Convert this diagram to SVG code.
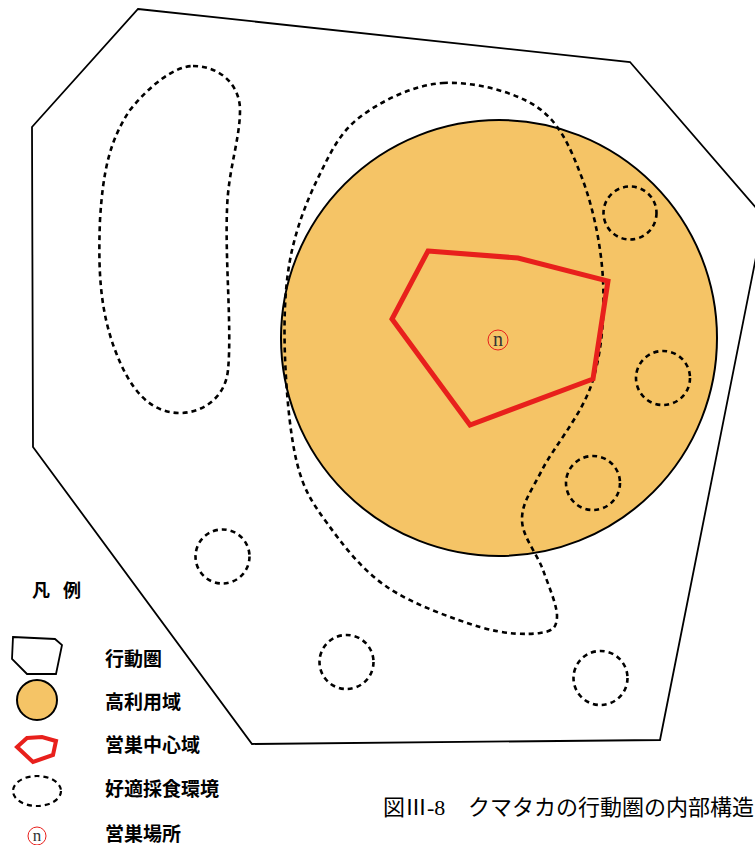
<svg xmlns="http://www.w3.org/2000/svg" width="755" height="845" viewBox="0 0 755 845">
<style>
.outer{fill:#fff;stroke:#000;stroke-width:1.8;stroke-linejoin:miter}
.high{fill:#F5C466;stroke:#000;stroke-width:2}
.core{fill:none;stroke:#E8201C;stroke-width:5;stroke-linejoin:miter}
.feed{fill:none;stroke:#000;stroke-width:2.6;stroke-dasharray:5 4}
.nestc{fill:none;stroke:#E8201C;stroke-width:1}
.nestt{font-family:"Liberation Serif",serif;font-size:20px;fill:#333;text-anchor:middle}
.leg{font-family:"Noto Sans CJK JP",sans-serif;font-size:19px;font-weight:bold;fill:#000}
.cap{font-family:"Noto Sans CJK JP",sans-serif;font-size:22px;fill:#000}
</style>
<rect width="755" height="845" fill="#fff"/>
<g id="home-range">
<path class="outer" d="M138,9 L630,62 L764,217 L660,740 L252,744 L33,447 L32,127 Z"/>
</g>
<g id="high-use-area">
<circle class="high" cx="499" cy="338" r="218"/>
</g>
<g id="feeding-areas">
<path class="feed" d="M193,66 C220,66 240,85 240,110 C240,140 228,170 227,210 C225,260 232,330 228,370 C225,400 200,413 180,413 C150,413 130,390 115,350 C100,310 98,270 100,220 C103,170 110,140 130,110 C150,85 175,66 193,66 Z"/>
<path class="feed" d="M443,83 C472.5,81.3 513.8,91.2 537,107 C560.2,122.8 571,149.2 582,178 C593,206.8 601.3,245.8 603,280 C604.7,314.2 602.2,351.3 592,383 C581.8,414.7 553.7,447.2 542,470 C530.3,492.8 521.8,503.3 522,520 C522.2,536.7 537.2,553.8 543,570 C548.8,586.2 557.5,606.5 557,617 C556.5,627.5 552.8,631.3 540,633 C527.2,634.7 505.5,634.7 480,627 C454.5,619.3 412.5,604.3 387,587 C361.5,569.7 342,543.7 327,523 C312,502.3 304,490.7 297,463 C290,435.3 286.2,390.8 285,357 C283.8,323.2 284.5,289.8 290,260 C295.5,230.2 306.3,201.8 318,178 C329.7,154.2 339.2,132.8 360,117 C380.8,101.2 413.5,84.7 443,83 Z"/>
<circle class="feed" cx="630" cy="213" r="26.5"/>
<circle class="feed" cx="663" cy="378" r="27"/>
<circle class="feed" cx="593" cy="483" r="27"/>
<circle class="feed" cx="222.5" cy="556.5" r="27"/>
<circle class="feed" cx="346.5" cy="662" r="27"/>
<circle class="feed" cx="600.5" cy="678" r="27"/>
</g>
<g id="nest-core-area">
<path class="core" d="M428,251 L518,258 L608,281 L593,379 L470,425 L392,319 Z"/>
</g>
<g id="nest-site">
<circle class="nestc" cx="498" cy="340" r="10"/>
<text class="nestt" x="498" y="345.5">n</text>
</g>
<g id="legend">
<text class="leg" x="32" y="597" style="font-size:18px">凡<tspan x="63">例</tspan></text>
<path class="outer" d="M13,637 L55,639 L62,645 L56,674 L27,674 L12,659 Z"/>
<text class="leg" x="105" y="666">行動圏</text>
<circle class="high" cx="37" cy="700" r="20"/>
<text class="leg" x="105" y="709">高利用域</text>
<path class="core" style="stroke-width:4" d="M27,738 L42,737 L56,741 L53,755 L33,762 L17,747 Z"/>
<text class="leg" x="105" y="752">営巣中心域</text>
<ellipse class="feed" style="stroke-width:2.2" cx="37" cy="791" rx="24" ry="15"/>
<text class="leg" x="105" y="796">好適採食環境</text>
<circle class="nestc" cx="37" cy="836" r="9"/>
<text class="nestt" x="37" y="841" style="font-size:17px">n</text>
<text class="leg" x="105" y="841">営巣場所</text>
</g>
<g id="caption">
<text class="cap" x="383" y="815">図Ⅲ<tspan style="font-family:'Liberation Serif',serif">-8</tspan></text>
<text class="cap" x="468" y="815">クマタカの行動圏の内部構造</text>
</g>
</svg>
